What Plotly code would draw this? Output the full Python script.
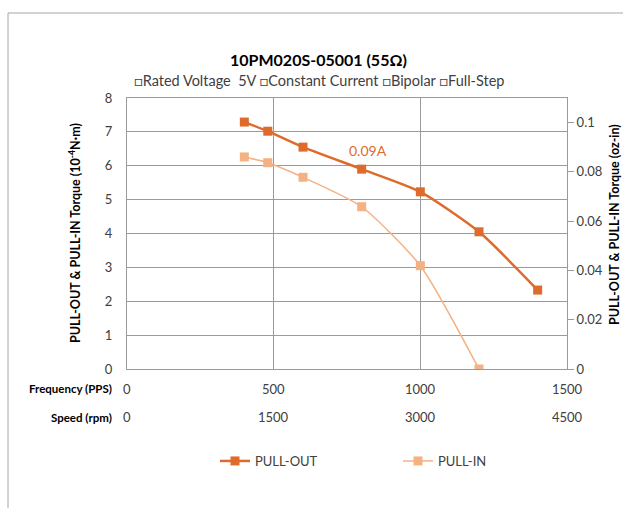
import plotly.graph_objects as go

# data
freq_out = [400, 480, 600, 800, 1000, 1200, 1400]
pull_out = [7.29, 7.02, 6.55, 5.90, 5.23, 4.05, 2.33]
freq_in = [400, 480, 600, 800, 1000, 1200]
pull_in = [6.26, 6.09, 5.66, 4.79, 3.05, 0.0]
freq_ticks = [0, 500, 1000, 1500]
speed_ticks = ["0", "1500", "3000", "4500"]

FONT = "Lato, Carlito, Open Sans, sans-serif"
TXT = "#404040"
GRID = "#9a9a9a"
C_OUT = "#DE6B2B"
C_IN = "#F4B183"

L, R, T, B = 127, 56, 98, 139
W, H = 623, 508
pw, ph = W - L - R, H - T - B

def px_x(px):
    return (px - L) / pw

def px_y(py):
    return (H - B - py) / ph

fig = go.Figure()
fig.add_trace(go.Scatter(x=freq_out, y=pull_out, name="PULL-OUT", mode="lines+markers",
                         line=dict(color=C_OUT, width=2.5, shape="spline", smoothing=0.6),
                         marker=dict(symbol="square", size=9, color=C_OUT)))
fig.add_trace(go.Scatter(x=freq_in, y=pull_in, name="PULL-IN", mode="lines+markers",
                         line=dict(color=C_IN, width=1.5, shape="spline", smoothing=0.6),
                         marker=dict(symbol="square", size=9, color=C_IN)))
fig.add_trace(go.Scatter(x=[None], y=[None], yaxis="y2", showlegend=False, hoverinfo="skip"))

annotations = [
    dict(text="<b>10PM020S-05001 (55Ω)</b>", xref="paper", yref="paper", x=px_x(318), y=px_y(60),
         showarrow=False, font=dict(size=16, color="#000"), xanchor="center", yanchor="middle"),
    dict(text="□Rated Voltage  5V □Constant Current □Bipolar □Full-Step", xref="paper", yref="paper",
         x=px_x(319), y=px_y(80), showarrow=False, font=dict(size=14.5, color=TXT),
         xanchor="center", yanchor="middle"),
    dict(text="0.09A", xref="paper", yref="paper", x=px_x(368), y=px_y(150), showarrow=False,
         font=dict(size=14, color=C_OUT), xanchor="center", yanchor="middle"),
    dict(text="<b>PULL-OUT & PULL-IN Torque (10<sup>-4</sup>N·m)</b>", xref="paper", yref="paper",
         x=px_x(74), y=px_y(233), textangle=-90, showarrow=False, font=dict(size=12.5, color="#000"),
         xanchor="center", yanchor="middle"),
    dict(text="<b>PULL-OUT & PULL-IN Torque (oz-in)</b>", xref="paper", yref="paper",
         x=px_x(614), y=px_y(225), textangle=-90, showarrow=False, font=dict(size=12.5, color="#000"),
         xanchor="center", yanchor="middle"),
    dict(text="<b>Frequency (PPS)</b>", xref="paper", yref="paper", x=px_x(114), y=px_y(389),
         showarrow=False, font=dict(size=11.5, color="#000"), xanchor="right", yanchor="middle"),
    dict(text="<b>Speed (rpm)</b>", xref="paper", yref="paper", x=px_x(114), y=px_y(417),
         showarrow=False, font=dict(size=11.5, color="#000"), xanchor="right", yanchor="middle"),
]
for f, s in zip(freq_ticks, speed_ticks):
    annotations.append(dict(text=str(f), xref="x", yref="paper", x=f, y=px_y(389), showarrow=False,
                            font=dict(size=13, color=TXT), xanchor="center", yanchor="middle"))
    annotations.append(dict(text=s, xref="x", yref="paper", x=f, y=px_y(417), showarrow=False,
                            font=dict(size=13, color=TXT), xanchor="center", yanchor="middle"))

fig.update_layout(
    width=W, height=H, margin=dict(l=L, r=R, t=T, b=B),
    paper_bgcolor="white", plot_bgcolor="white",
    font=dict(family=FONT, color=TXT, size=13),
    showlegend=True,
    legend=dict(orientation="h", x=px_x(215), y=px_y(461), xanchor="left", yanchor="middle",
                font=dict(size=13, color=TXT), entrywidth=138, bgcolor="rgba(0,0,0,0)"),
    xaxis=dict(range=[0, 1500], tickvals=freq_ticks, showticklabels=False, showgrid=True,
               gridcolor=GRID, gridwidth=1, showline=True, linecolor=GRID, mirror=True,
               zeroline=False, ticks=""),
    yaxis=dict(range=[0, 8], dtick=1, showgrid=True, gridcolor=GRID, showline=True, linecolor=GRID,
               zeroline=False, ticks="outside", ticklen=11, tickcolor="rgba(0,0,0,0)",
               tickfont=dict(size=13, color=TXT)),
    yaxis2=dict(range=[0, 0.11], dtick=0.02, overlaying="y", side="right", showgrid=False,
                showline=True, linecolor=GRID, zeroline=False, ticks="outside", ticklen=6,
                tickcolor=GRID, tickfont=dict(size=13, color=TXT), tickformat="~g"),
    annotations=annotations,
    shapes=[dict(type="rect", xref="paper", yref="paper", x0=px_x(8), x1=px_x(700),
                 y0=px_y(600), y1=px_y(13), line=dict(color="#a6a6a6", width=1),
                 fillcolor="rgba(0,0,0,0)", layer="below")],
)

fig.write_html("out.html")
